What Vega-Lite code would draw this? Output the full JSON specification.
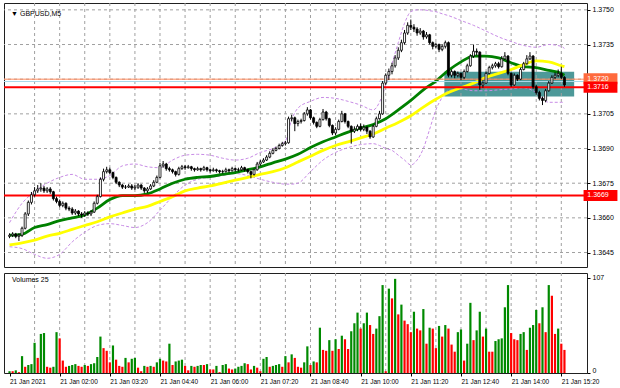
{
"$schema":"https://vega.github.io/schema/vega-lite/v6.json",
"background":"white",
"padding":{"left":2,"top":2,"right":0,"bottom":0},
"spacing":4,
"config":{"view":{"stroke":"#202020","strokeWidth":1},"font":"Liberation Sans",
"axis":{"domain":false,"grid":false,"tickColor":"#000","tickSize":3,"labelColor":"#000","labelFont":"Liberation Sans","labelFontSize":7,"labelPadding":2,"labelOverlap":false,"zindex":1}},
"datasets":{
"gx":[{"t":8},{"t":16},{"t":24},{"t":32},{"t":40},{"t":48},{"t":56},{"t":64},{"t":72},{"t":80},{"t":88},{"t":96},{"t":104},{"t":112},{"t":120},{"t":128},{"t":136},{"t":144},{"t":152},{"t":160},{"t":168},{"t":176}],
"gy":[{"p":1.3645},{"p":1.366},{"p":1.3675},{"p":1.369},{"p":1.3705},{"p":1.372},{"p":1.3735},{"p":1.375}],
"bars":[
{"t":0,"o":1.3652,"h":1.36533,"l":1.36512,"c":1.36525,"v":2,"vc":"g"},
{"t":1,"o":1.36525,"h":1.36538,"l":1.36517,"c":1.3653,"v":2,"vc":"r"},
{"t":2,"o":1.3653,"h":1.36535,"l":1.36512,"c":1.3652,"v":3,"vc":"g"},
{"t":3,"o":1.3652,"h":1.36533,"l":1.365,"c":1.36525,"v":1,"vc":"r"},
{"t":4,"o":1.36525,"h":1.36562,"l":1.36517,"c":1.36555,"v":19,"vc":"g"},
{"t":5,"o":1.36555,"h":1.36625,"l":1.3655,"c":1.36617,"v":7,"vc":"r"},
{"t":6,"o":1.36617,"h":1.36675,"l":1.36608,"c":1.36667,"v":9,"vc":"g"},
{"t":7,"o":1.36667,"h":1.36712,"l":1.36658,"c":1.367,"v":10,"vc":"g"},
{"t":8,"o":1.367,"h":1.36733,"l":1.36692,"c":1.36717,"v":34,"vc":"g"},
{"t":9,"o":1.36717,"h":1.36742,"l":1.36708,"c":1.36725,"v":17,"vc":"r"},
{"t":10,"o":1.36725,"h":1.3675,"l":1.36713,"c":1.36729,"v":44,"vc":"g"},
{"t":11,"o":1.36729,"h":1.36738,"l":1.36708,"c":1.36717,"v":45,"vc":"g"},
{"t":12,"o":1.36717,"h":1.36733,"l":1.36708,"c":1.36725,"v":7,"vc":"r"},
{"t":13,"o":1.36725,"h":1.36733,"l":1.36704,"c":1.36713,"v":6,"vc":"r"},
{"t":14,"o":1.36713,"h":1.36717,"l":1.36675,"c":1.36683,"v":7,"vc":"g"},
{"t":15,"o":1.36683,"h":1.36692,"l":1.36663,"c":1.36671,"v":46,"vc":"g"},
{"t":16,"o":1.36671,"h":1.36679,"l":1.36646,"c":1.36654,"v":39,"vc":"r"},
{"t":17,"o":1.36654,"h":1.36671,"l":1.36646,"c":1.36663,"v":14,"vc":"r"},
{"t":18,"o":1.36663,"h":1.36667,"l":1.36633,"c":1.36642,"v":7,"vc":"r"},
{"t":19,"o":1.36642,"h":1.3665,"l":1.36629,"c":1.36638,"v":8,"vc":"g"},
{"t":20,"o":1.36638,"h":1.36646,"l":1.36613,"c":1.36621,"v":9,"vc":"g"},
{"t":21,"o":1.36621,"h":1.36638,"l":1.36613,"c":1.36629,"v":10,"vc":"g"},
{"t":22,"o":1.36629,"h":1.36633,"l":1.36608,"c":1.36617,"v":8,"vc":"r"},
{"t":23,"o":1.36617,"h":1.36625,"l":1.366,"c":1.36613,"v":7,"vc":"r"},
{"t":24,"o":1.36613,"h":1.36629,"l":1.36604,"c":1.36621,"v":9,"vc":"g"},
{"t":25,"o":1.36621,"h":1.36629,"l":1.36608,"c":1.36617,"v":8,"vc":"r"},
{"t":26,"o":1.36617,"h":1.36633,"l":1.36608,"c":1.36625,"v":10,"vc":"g"},
{"t":27,"o":1.36625,"h":1.36671,"l":1.36621,"c":1.36663,"v":11,"vc":"g"},
{"t":28,"o":1.36663,"h":1.367,"l":1.36658,"c":1.36692,"v":18,"vc":"g"},
{"t":29,"o":1.36692,"h":1.36775,"l":1.36688,"c":1.36767,"v":41,"vc":"g"},
{"t":30,"o":1.36767,"h":1.36813,"l":1.36758,"c":1.368,"v":28,"vc":"r"},
{"t":31,"o":1.368,"h":1.36821,"l":1.36792,"c":1.36808,"v":25,"vc":"r"},
{"t":32,"o":1.36808,"h":1.36817,"l":1.36788,"c":1.36796,"v":12,"vc":"r"},
{"t":33,"o":1.36796,"h":1.368,"l":1.36767,"c":1.36775,"v":31,"vc":"g"},
{"t":34,"o":1.36775,"h":1.36779,"l":1.36746,"c":1.36754,"v":15,"vc":"r"},
{"t":35,"o":1.36754,"h":1.36758,"l":1.36733,"c":1.36742,"v":8,"vc":"r"},
{"t":36,"o":1.36742,"h":1.36746,"l":1.36725,"c":1.36733,"v":7,"vc":"r"},
{"t":37,"o":1.36733,"h":1.36742,"l":1.36725,"c":1.36733,"v":17,"vc":"g"},
{"t":38,"o":1.36733,"h":1.36746,"l":1.36729,"c":1.36738,"v":12,"vc":"r"},
{"t":39,"o":1.36738,"h":1.36746,"l":1.36721,"c":1.36729,"v":16,"vc":"g"},
{"t":40,"o":1.36729,"h":1.36742,"l":1.36721,"c":1.36733,"v":17,"vc":"g"},
{"t":41,"o":1.36733,"h":1.3675,"l":1.36725,"c":1.36742,"v":6,"vc":"r"},
{"t":42,"o":1.36742,"h":1.36746,"l":1.36721,"c":1.36729,"v":2,"vc":"r"},
{"t":43,"o":1.36729,"h":1.36733,"l":1.36708,"c":1.36717,"v":8,"vc":"g"},
{"t":44,"o":1.36717,"h":1.36733,"l":1.36708,"c":1.36725,"v":7,"vc":"r"},
{"t":45,"o":1.36725,"h":1.36746,"l":1.36721,"c":1.36738,"v":8,"vc":"g"},
{"t":46,"o":1.36738,"h":1.36763,"l":1.36733,"c":1.36754,"v":7,"vc":"r"},
{"t":47,"o":1.36754,"h":1.36783,"l":1.3675,"c":1.36775,"v":12,"vc":"g"},
{"t":48,"o":1.36775,"h":1.36838,"l":1.36771,"c":1.36825,"v":16,"vc":"g"},
{"t":49,"o":1.36825,"h":1.36846,"l":1.36817,"c":1.36833,"v":14,"vc":"r"},
{"t":50,"o":1.36833,"h":1.36838,"l":1.36804,"c":1.36813,"v":13,"vc":"r"},
{"t":51,"o":1.36813,"h":1.36821,"l":1.368,"c":1.36808,"v":33,"vc":"g"},
{"t":52,"o":1.36808,"h":1.36813,"l":1.36792,"c":1.368,"v":9,"vc":"r"},
{"t":53,"o":1.368,"h":1.36804,"l":1.36779,"c":1.36788,"v":13,"vc":"g"},
{"t":54,"o":1.36788,"h":1.36821,"l":1.36783,"c":1.36813,"v":14,"vc":"g"},
{"t":55,"o":1.36813,"h":1.36829,"l":1.36808,"c":1.36821,"v":15,"vc":"g"},
{"t":56,"o":1.36821,"h":1.36829,"l":1.36808,"c":1.36817,"v":8,"vc":"r"},
{"t":57,"o":1.36817,"h":1.36829,"l":1.36813,"c":1.36821,"v":3,"vc":"r"},
{"t":58,"o":1.36821,"h":1.36825,"l":1.36804,"c":1.36813,"v":8,"vc":"g"},
{"t":59,"o":1.36813,"h":1.36817,"l":1.368,"c":1.36808,"v":7,"vc":"r"},
{"t":60,"o":1.36808,"h":1.36821,"l":1.36804,"c":1.36813,"v":8,"vc":"g"},
{"t":61,"o":1.36813,"h":1.36817,"l":1.368,"c":1.36808,"v":9,"vc":"g"},
{"t":62,"o":1.36808,"h":1.36825,"l":1.36804,"c":1.36817,"v":9,"vc":"r"},
{"t":63,"o":1.36817,"h":1.36821,"l":1.368,"c":1.36808,"v":10,"vc":"g"},
{"t":64,"o":1.36808,"h":1.36813,"l":1.36796,"c":1.36804,"v":4,"vc":"r"},
{"t":65,"o":1.36804,"h":1.36817,"l":1.368,"c":1.36808,"v":4,"vc":"r"},
{"t":66,"o":1.36808,"h":1.36813,"l":1.36796,"c":1.36804,"v":8,"vc":"g"},
{"t":67,"o":1.36804,"h":1.36808,"l":1.36792,"c":1.368,"v":1,"vc":"r"},
{"t":68,"o":1.368,"h":1.36808,"l":1.36792,"c":1.368,"v":9,"vc":"g"},
{"t":69,"o":1.368,"h":1.36817,"l":1.36796,"c":1.36808,"v":10,"vc":"g"},
{"t":70,"o":1.36808,"h":1.36813,"l":1.36796,"c":1.36804,"v":5,"vc":"r"},
{"t":71,"o":1.36804,"h":1.36821,"l":1.368,"c":1.36813,"v":4,"vc":"r"},
{"t":72,"o":1.36813,"h":1.36817,"l":1.368,"c":1.36808,"v":5,"vc":"g"},
{"t":73,"o":1.36808,"h":1.36817,"l":1.368,"c":1.36808,"v":7,"vc":"g"},
{"t":74,"o":1.36808,"h":1.36825,"l":1.36804,"c":1.36817,"v":8,"vc":"g"},
{"t":75,"o":1.36817,"h":1.36821,"l":1.368,"c":1.36808,"v":11,"vc":"g"},
{"t":76,"o":1.36808,"h":1.36813,"l":1.36792,"c":1.368,"v":10,"vc":"r"},
{"t":77,"o":1.368,"h":1.36804,"l":1.36771,"c":1.36788,"v":4,"vc":"r"},
{"t":78,"o":1.36788,"h":1.36813,"l":1.36783,"c":1.36808,"v":8,"vc":"g"},
{"t":79,"o":1.36808,"h":1.36842,"l":1.36804,"c":1.36833,"v":6,"vc":"r"},
{"t":80,"o":1.36833,"h":1.3685,"l":1.36825,"c":1.36842,"v":2,"vc":"r"},
{"t":81,"o":1.36842,"h":1.36858,"l":1.36838,"c":1.3685,"v":16,"vc":"g"},
{"t":82,"o":1.3685,"h":1.36871,"l":1.36846,"c":1.36863,"v":18,"vc":"g"},
{"t":83,"o":1.36863,"h":1.36888,"l":1.36858,"c":1.36879,"v":7,"vc":"r"},
{"t":84,"o":1.36879,"h":1.369,"l":1.36875,"c":1.36892,"v":8,"vc":"g"},
{"t":85,"o":1.36892,"h":1.36908,"l":1.36888,"c":1.369,"v":9,"vc":"g"},
{"t":86,"o":1.369,"h":1.36921,"l":1.36896,"c":1.36913,"v":10,"vc":"g"},
{"t":87,"o":1.36913,"h":1.36929,"l":1.36908,"c":1.36921,"v":7,"vc":"r"},
{"t":88,"o":1.36921,"h":1.36933,"l":1.36913,"c":1.36925,"v":19,"vc":"g"},
{"t":89,"o":1.36925,"h":1.37038,"l":1.36921,"c":1.37029,"v":12,"vc":"r"},
{"t":90,"o":1.37029,"h":1.37046,"l":1.37017,"c":1.37033,"v":21,"vc":"g"},
{"t":91,"o":1.37033,"h":1.37038,"l":1.36975,"c":1.37008,"v":17,"vc":"r"},
{"t":92,"o":1.37008,"h":1.37025,"l":1.36996,"c":1.37017,"v":7,"vc":"r"},
{"t":93,"o":1.37017,"h":1.37029,"l":1.37008,"c":1.37021,"v":6,"vc":"r"},
{"t":94,"o":1.37021,"h":1.37058,"l":1.37017,"c":1.3705,"v":12,"vc":"g"},
{"t":95,"o":1.3705,"h":1.37079,"l":1.37042,"c":1.37067,"v":30,"vc":"g"},
{"t":96,"o":1.37067,"h":1.37071,"l":1.37025,"c":1.37033,"v":9,"vc":"r"},
{"t":97,"o":1.37033,"h":1.37038,"l":1.37004,"c":1.37013,"v":13,"vc":"g"},
{"t":98,"o":1.37013,"h":1.37017,"l":1.36988,"c":1.36996,"v":12,"vc":"r"},
{"t":99,"o":1.36996,"h":1.37033,"l":1.36992,"c":1.37025,"v":51,"vc":"g"},
{"t":100,"o":1.37025,"h":1.37071,"l":1.37021,"c":1.37058,"v":26,"vc":"r"},
{"t":101,"o":1.37058,"h":1.37063,"l":1.37021,"c":1.37029,"v":25,"vc":"r"},
{"t":102,"o":1.37029,"h":1.37033,"l":1.36992,"c":1.37,"v":37,"vc":"g"},
{"t":103,"o":1.37,"h":1.37004,"l":1.36958,"c":1.36967,"v":25,"vc":"r"},
{"t":104,"o":1.36967,"h":1.36992,"l":1.36958,"c":1.36983,"v":38,"vc":"g"},
{"t":105,"o":1.36983,"h":1.37025,"l":1.36979,"c":1.37017,"v":27,"vc":"r"},
{"t":106,"o":1.37017,"h":1.37063,"l":1.37013,"c":1.3705,"v":42,"vc":"g"},
{"t":107,"o":1.3705,"h":1.37054,"l":1.37008,"c":1.37017,"v":38,"vc":"r"},
{"t":108,"o":1.37017,"h":1.37021,"l":1.36988,"c":1.36996,"v":27,"vc":"r"},
{"t":109,"o":1.36996,"h":1.37,"l":1.36921,"c":1.36975,"v":47,"vc":"g"},
{"t":110,"o":1.36975,"h":1.36996,"l":1.36967,"c":1.36983,"v":56,"vc":"g"},
{"t":111,"o":1.36983,"h":1.37004,"l":1.36975,"c":1.36996,"v":68,"vc":"g"},
{"t":112,"o":1.36996,"h":1.37008,"l":1.36975,"c":1.36983,"v":50,"vc":"r"},
{"t":113,"o":1.36983,"h":1.37004,"l":1.36975,"c":1.36992,"v":56,"vc":"g"},
{"t":114,"o":1.36992,"h":1.36996,"l":1.36963,"c":1.36975,"v":68,"vc":"g"},
{"t":115,"o":1.36975,"h":1.36979,"l":1.36942,"c":1.3695,"v":54,"vc":"r"},
{"t":116,"o":1.3695,"h":1.37004,"l":1.36946,"c":1.36996,"v":44,"vc":"r"},
{"t":117,"o":1.36996,"h":1.37038,"l":1.36992,"c":1.37029,"v":50,"vc":"g"},
{"t":118,"o":1.37029,"h":1.37063,"l":1.37025,"c":1.3705,"v":64,"vc":"g"},
{"t":119,"o":1.3705,"h":1.37192,"l":1.37046,"c":1.37183,"v":99,"vc":"g"},
{"t":120,"o":1.37183,"h":1.37225,"l":1.37175,"c":1.37217,"v":2,"vc":"r"},
{"t":121,"o":1.37217,"h":1.37246,"l":1.37196,"c":1.37233,"v":95,"vc":"g"},
{"t":122,"o":1.37233,"h":1.37271,"l":1.37221,"c":1.37258,"v":84,"vc":"r"},
{"t":123,"o":1.37258,"h":1.37304,"l":1.3725,"c":1.37292,"v":106,"vc":"g"},
{"t":124,"o":1.37292,"h":1.37338,"l":1.37283,"c":1.37325,"v":66,"vc":"r"},
{"t":125,"o":1.37325,"h":1.37371,"l":1.37317,"c":1.37358,"v":77,"vc":"g"},
{"t":126,"o":1.37358,"h":1.37413,"l":1.3735,"c":1.374,"v":59,"vc":"r"},
{"t":127,"o":1.374,"h":1.37446,"l":1.37392,"c":1.37433,"v":55,"vc":"r"},
{"t":128,"o":1.37433,"h":1.37458,"l":1.37413,"c":1.37425,"v":46,"vc":"r"},
{"t":129,"o":1.37425,"h":1.37438,"l":1.37404,"c":1.37417,"v":69,"vc":"g"},
{"t":130,"o":1.37417,"h":1.37425,"l":1.37388,"c":1.374,"v":50,"vc":"r"},
{"t":131,"o":1.374,"h":1.37421,"l":1.37392,"c":1.37408,"v":48,"vc":"r"},
{"t":132,"o":1.37408,"h":1.37413,"l":1.37371,"c":1.37383,"v":72,"vc":"g"},
{"t":133,"o":1.37383,"h":1.37404,"l":1.37375,"c":1.37392,"v":33,"vc":"r"},
{"t":134,"o":1.37392,"h":1.37396,"l":1.3735,"c":1.37358,"v":51,"vc":"g"},
{"t":135,"o":1.37358,"h":1.37363,"l":1.37329,"c":1.37342,"v":50,"vc":"r"},
{"t":136,"o":1.37342,"h":1.37358,"l":1.37333,"c":1.3735,"v":28,"vc":"r"},
{"t":137,"o":1.3735,"h":1.37354,"l":1.37317,"c":1.37329,"v":53,"vc":"g"},
{"t":138,"o":1.37329,"h":1.3735,"l":1.37321,"c":1.37342,"v":41,"vc":"r"},
{"t":139,"o":1.37342,"h":1.37367,"l":1.37333,"c":1.37358,"v":54,"vc":"g"},
{"t":140,"o":1.37358,"h":1.37363,"l":1.37208,"c":1.37217,"v":50,"vc":"r"},
{"t":141,"o":1.37217,"h":1.37242,"l":1.37208,"c":1.37233,"v":32,"vc":"r"},
{"t":142,"o":1.37233,"h":1.37238,"l":1.37204,"c":1.37217,"v":24,"vc":"r"},
{"t":143,"o":1.37217,"h":1.37233,"l":1.37208,"c":1.37225,"v":46,"vc":"g"},
{"t":144,"o":1.37225,"h":1.37229,"l":1.37196,"c":1.37208,"v":49,"vc":"g"},
{"t":145,"o":1.37208,"h":1.37242,"l":1.372,"c":1.37233,"v":14,"vc":"r"},
{"t":146,"o":1.37233,"h":1.37267,"l":1.37229,"c":1.37258,"v":33,"vc":"g"},
{"t":147,"o":1.37258,"h":1.37308,"l":1.37254,"c":1.373,"v":79,"vc":"g"},
{"t":148,"o":1.373,"h":1.3735,"l":1.37292,"c":1.37321,"v":37,"vc":"r"},
{"t":149,"o":1.37321,"h":1.37333,"l":1.37304,"c":1.37317,"v":48,"vc":"g"},
{"t":150,"o":1.37317,"h":1.37321,"l":1.37154,"c":1.37175,"v":69,"vc":"g"},
{"t":151,"o":1.37175,"h":1.37196,"l":1.37163,"c":1.37183,"v":41,"vc":"r"},
{"t":152,"o":1.37183,"h":1.37233,"l":1.37179,"c":1.37225,"v":50,"vc":"g"},
{"t":153,"o":1.37225,"h":1.37258,"l":1.37221,"c":1.3725,"v":24,"vc":"r"},
{"t":154,"o":1.3725,"h":1.37267,"l":1.37242,"c":1.37258,"v":24,"vc":"r"},
{"t":155,"o":1.37258,"h":1.37275,"l":1.3725,"c":1.37267,"v":36,"vc":"g"},
{"t":156,"o":1.37267,"h":1.37275,"l":1.37246,"c":1.37254,"v":38,"vc":"g"},
{"t":157,"o":1.37254,"h":1.373,"l":1.3725,"c":1.37288,"v":39,"vc":"g"},
{"t":158,"o":1.37288,"h":1.37317,"l":1.37283,"c":1.373,"v":74,"vc":"g"},
{"t":159,"o":1.373,"h":1.37304,"l":1.37217,"c":1.37225,"v":99,"vc":"g"},
{"t":160,"o":1.37225,"h":1.37229,"l":1.37167,"c":1.37175,"v":45,"vc":"r"},
{"t":161,"o":1.37175,"h":1.37225,"l":1.37171,"c":1.37217,"v":38,"vc":"r"},
{"t":162,"o":1.37217,"h":1.37221,"l":1.37192,"c":1.372,"v":37,"vc":"r"},
{"t":163,"o":1.372,"h":1.3725,"l":1.37196,"c":1.37242,"v":44,"vc":"g"},
{"t":164,"o":1.37242,"h":1.37275,"l":1.37238,"c":1.37267,"v":46,"vc":"g"},
{"t":165,"o":1.37267,"h":1.37304,"l":1.37263,"c":1.37288,"v":26,"vc":"r"},
{"t":166,"o":1.37288,"h":1.37317,"l":1.37283,"c":1.373,"v":51,"vc":"g"},
{"t":167,"o":1.373,"h":1.37304,"l":1.37158,"c":1.37167,"v":54,"vc":"g"},
{"t":168,"o":1.37167,"h":1.37175,"l":1.37133,"c":1.37142,"v":71,"vc":"g"},
{"t":169,"o":1.37142,"h":1.3715,"l":1.37108,"c":1.37117,"v":56,"vc":"r"},
{"t":170,"o":1.37117,"h":1.37125,"l":1.37088,"c":1.37108,"v":74,"vc":"g"},
{"t":171,"o":1.37108,"h":1.37158,"l":1.371,"c":1.3715,"v":46,"vc":"r"},
{"t":172,"o":1.3715,"h":1.37192,"l":1.37146,"c":1.37183,"v":99,"vc":"g"},
{"t":173,"o":1.37183,"h":1.37217,"l":1.37179,"c":1.37208,"v":87,"vc":"r"},
{"t":174,"o":1.37208,"h":1.37229,"l":1.372,"c":1.37217,"v":44,"vc":"r"},
{"t":175,"o":1.37217,"h":1.37242,"l":1.37208,"c":1.37225,"v":50,"vc":"g"},
{"t":176,"o":1.37225,"h":1.37254,"l":1.372,"c":1.37208,"v":33,"vc":"r"},
{"t":177,"o":1.37208,"h":1.37213,"l":1.37167,"c":1.37175,"v":26,"vc":"r"}
],
"ma":[
{"t":0,"g":1.36525,"y":1.36483},{"t":4,"g":1.36529,"y":1.36492},{"t":8,"g":1.36558,"y":1.36504},{"t":12,"g":1.36571,"y":1.36521},
{"t":16,"g":1.36588,"y":1.36533},{"t":20,"g":1.366,"y":1.3655},{"t":24,"g":1.36613,"y":1.36567},{"t":28,"g":1.36642,"y":1.36583},
{"t":32,"g":1.36679,"y":1.36604},{"t":36,"g":1.36696,"y":1.36621},{"t":40,"g":1.36696,"y":1.36638},{"t":44,"g":1.36704,"y":1.3665},
{"t":48,"g":1.36725,"y":1.36671},{"t":52,"g":1.3675,"y":1.36692},{"t":56,"g":1.36767,"y":1.36717},{"t":60,"g":1.36775,"y":1.36729},
{"t":64,"g":1.36779,"y":1.36738},{"t":68,"g":1.36788,"y":1.3675},{"t":72,"g":1.36796,"y":1.36763},{"t":76,"g":1.36808,"y":1.36775},
{"t":80,"g":1.36821,"y":1.36788},{"t":84,"g":1.36838,"y":1.368},{"t":88,"g":1.36854,"y":1.36817},{"t":92,"g":1.36875,"y":1.36842},
{"t":96,"g":1.36904,"y":1.36867},{"t":100,"g":1.36929,"y":1.36892},{"t":104,"g":1.3695,"y":1.36913},{"t":108,"g":1.36971,"y":1.36929},
{"t":112,"g":1.36988,"y":1.36946},{"t":116,"g":1.37004,"y":1.36963},{"t":120,"g":1.37029,"y":1.36988},{"t":124,"g":1.37067,"y":1.37013},
{"t":128,"g":1.37108,"y":1.37042},{"t":132,"g":1.37154,"y":1.37079},{"t":136,"g":1.37192,"y":1.37113},{"t":140,"g":1.37238,"y":1.37142},
{"t":144,"g":1.37275,"y":1.37163},{"t":148,"g":1.373,"y":1.37183},{"t":152,"g":1.373,"y":1.37208},{"t":156,"g":1.37292,"y":1.37225},
{"t":160,"g":1.37271,"y":1.37242},{"t":164,"g":1.37254,"y":1.37263},{"t":168,"g":1.3725,"y":1.37279},{"t":172,"g":1.37238,"y":1.37275},
{"t":176,"g":1.37225,"y":1.37258},{"t":177,"g":1.37217,"y":1.37254}
],
"bb":[
{"t":0,"u":1.36579,"l":1.36475},{"t":4,"u":1.36663,"l":1.36467},{"t":8,"u":1.36713,"l":1.36442},{"t":12,"u":1.3675,"l":1.36425},
{"t":16,"u":1.36775,"l":1.36442},{"t":20,"u":1.36788,"l":1.36496},{"t":24,"u":1.36767,"l":1.36538},{"t":28,"u":1.36767,"l":1.36567},
{"t":32,"u":1.36783,"l":1.36575},{"t":36,"u":1.36825,"l":1.36567},{"t":40,"u":1.36833,"l":1.36558},{"t":44,"u":1.36821,"l":1.36579},
{"t":48,"u":1.36817,"l":1.36633},{"t":52,"u":1.3685,"l":1.36692},{"t":56,"u":1.36871,"l":1.36742},{"t":60,"u":1.36875,"l":1.36767},
{"t":64,"u":1.36871,"l":1.36775},{"t":68,"u":1.36858,"l":1.36783},{"t":72,"u":1.3685,"l":1.36792},{"t":76,"u":1.36858,"l":1.36783},
{"t":80,"u":1.36883,"l":1.36767},{"t":84,"u":1.369,"l":1.36754},{"t":88,"u":1.36933,"l":1.36746},{"t":90,"u":1.37025,"l":1.36746},
{"t":92,"u":1.37075,"l":1.3675},{"t":96,"u":1.37104,"l":1.368},{"t":100,"u":1.37121,"l":1.3685},{"t":104,"u":1.37117,"l":1.36883},
{"t":108,"u":1.37104,"l":1.36904},{"t":112,"u":1.37088,"l":1.36917},{"t":116,"u":1.37067,"l":1.36921},{"t":118,"u":1.371,"l":1.36913},
{"t":120,"u":1.37175,"l":1.369},{"t":122,"u":1.37267,"l":1.36892},{"t":124,"u":1.37358,"l":1.36871},{"t":126,"u":1.37442,"l":1.3685},
{"t":128,"u":1.37492,"l":1.36829},{"t":130,"u":1.375,"l":1.3685},{"t":132,"u":1.375,"l":1.369},{"t":134,"u":1.37496,"l":1.36983},
{"t":136,"u":1.37492,"l":1.37067},{"t":138,"u":1.37483,"l":1.37121},{"t":140,"u":1.37475,"l":1.3715},{"t":144,"u":1.37454,"l":1.37158},
{"t":148,"u":1.37433,"l":1.3715},{"t":152,"u":1.37408,"l":1.3715},{"t":156,"u":1.37383,"l":1.37154},{"t":160,"u":1.37363,"l":1.37158},
{"t":164,"u":1.37346,"l":1.37163},{"t":168,"u":1.37338,"l":1.37142},{"t":172,"u":1.3735,"l":1.371},{"t":176,"u":1.37342,"l":1.371},
{"t":177,"u":1.37333,"l":1.371}
],
"zone":[{"t1":138.7,"t2":180.1,"p1":1.37232,"p2":1.37125}],
"lines":[{"p":1.372,"k":"o"},{"p":1.3719,"k":"b"},{"p":1.37165,"k":"r"},{"p":1.36697,"k":"r"}],
"tags":[{"p":1.37202,"lab":"1.3720","k":"o"},{"p":1.37165,"lab":"1.3716","k":"r"},{"p":1.36697,"lab":"1.3669","k":"r"}]
},
"vconcat":[
{"width":583,"height":264,
"resolve":{"axis":{"x":"independent","y":"independent"}},
"layer":[
{"data":{"name":"zone"},"mark":{"type":"rect","color":"#4d9999"},
"encoding":{
"x":{"field":"t1","type":"quantitative","scale":{"domain":[-0.16,182.6],"nice":false,"zero":false},"title":null,
"axis":{"values":[0,8,16,24,32,40,48,56,64,72,80,88,96,104,112,120,128,136,144,152,160,168,176],"labels":false,"ticks":false,"grid":false}},
"x2":{"field":"t2"},
"y":{"field":"p1","type":"quantitative","scale":{"domain":[1.36409,1.37508],"nice":false,"zero":false},"title":null,
"axis":{"orient":"right","values":[1.3645,1.366,1.3675,1.369,1.3705,1.372,1.3735,1.375],"labelExpr":"abs(datum.value-1.372)<0.00001 ? '' : format(datum.value,'.4f')","grid":false,"tickSize":3,"labelFontSize":7,"labelOverlap":false,"zindex":0}},
"y2":{"field":"p2"}}},
{"data":{"name":"gx"},"mark":{"type":"rule","color":"#a0a0a0","strokeWidth":1,"strokeDash":[3,3]},
"encoding":{"x":{"field":"t","type":"quantitative","scale":{"domain":[-0.16,182.6],"nice":false,"zero":false},"title":null,"axis":null}}},
{"data":{"name":"gy"},"mark":{"type":"rule","color":"#a0a0a0","strokeWidth":1,"strokeDash":[3,3]},
"encoding":{"y":{"field":"p","type":"quantitative","scale":{"domain":[1.36409,1.37508],"nice":false,"zero":false},"title":null,"axis":null}}},
{"data":{"name":"bb"},"mark":{"type":"line","color":"#c88ce6","strokeWidth":1,"strokeDash":[3,2],"interpolate":"monotone","clip":true},
"encoding":{"x":{"field":"t","type":"quantitative","scale":{"domain":[-0.16,182.6],"nice":false,"zero":false},"title":null,"axis":null},
"y":{"field":"u","type":"quantitative","scale":{"domain":[1.36409,1.37508],"nice":false,"zero":false},"title":null,"axis":null}}},
{"data":{"name":"bb"},"mark":{"type":"line","color":"#c88ce6","strokeWidth":1,"strokeDash":[3,2],"interpolate":"monotone","clip":true},
"encoding":{"x":{"field":"t","type":"quantitative","scale":{"domain":[-0.16,182.6],"nice":false,"zero":false},"title":null,"axis":null},
"y":{"field":"l","type":"quantitative","scale":{"domain":[1.36409,1.37508],"nice":false,"zero":false},"title":null,"axis":null}}},
{"data":{"name":"ma"},"mark":{"type":"line","color":"#008000","strokeWidth":2.8,"interpolate":"monotone","clip":true},
"encoding":{"x":{"field":"t","type":"quantitative","scale":{"domain":[-0.16,182.6],"nice":false,"zero":false},"title":null,"axis":null},
"y":{"field":"g","type":"quantitative","scale":{"domain":[1.36409,1.37508],"nice":false,"zero":false},"title":null,"axis":null}}},
{"data":{"name":"ma"},"mark":{"type":"line","color":"#ffff00","strokeWidth":2.8,"interpolate":"monotone","clip":true},
"encoding":{"x":{"field":"t","type":"quantitative","scale":{"domain":[-0.16,182.6],"nice":false,"zero":false},"title":null,"axis":null},
"y":{"field":"y","type":"quantitative","scale":{"domain":[1.36409,1.37508],"nice":false,"zero":false},"title":null,"axis":null}}},
{"data":{"name":"lines"},"mark":{"type":"rule"},
"encoding":{"y":{"field":"p","type":"quantitative","scale":{"domain":[1.36409,1.37508],"nice":false,"zero":false},"title":null,"axis":null},
"color":{"condition":[{"test":"datum.k == 'o'","value":"#ff8a5c"},{"test":"datum.k == 'b'","value":"#a9d9ea"}],"value":"#ff0000"},
"strokeWidth":{"condition":{"test":"datum.k == 'r'","value":2},"value":1}}},
{"data":{"name":"bars"},"mark":{"type":"rule","color":"#000","strokeWidth":1,"clip":true},
"encoding":{"x":{"field":"t","type":"quantitative","scale":{"domain":[-0.16,182.6],"nice":false,"zero":false},"title":null,"axis":null},
"y":{"field":"l","type":"quantitative","scale":{"domain":[1.36409,1.37508],"nice":false,"zero":false},"title":null,"axis":null},
"y2":{"field":"h"}}},
{"data":{"name":"bars"},"mark":{"type":"bar","size":2,"stroke":"#000","strokeWidth":0.8,"clip":true},
"encoding":{"x":{"field":"t","type":"quantitative","scale":{"domain":[-0.16,182.6],"nice":false,"zero":false},"title":null,"axis":null},
"y":{"field":"o","type":"quantitative","scale":{"domain":[1.36409,1.37508],"nice":false,"zero":false},"title":null,"axis":null},
"y2":{"field":"c"},
"color":{"condition":{"test":"datum.c < datum.o","value":"#000000"},"value":"#ffffff"}}},
{"data":{"name":"tags"},"mark":{"type":"bar","size":11,"orient":"horizontal","clip":false},
"encoding":{"x":{"datum":183.1,"type":"quantitative","scale":{"domain":[-0.16,182.6],"nice":false,"zero":false},"title":null,"axis":null},
"x2":{"datum":193.9},
"y":{"field":"p","type":"quantitative","scale":{"domain":[1.36409,1.37508],"nice":false,"zero":false},"title":null,"axis":null},
"color":{"condition":{"test":"datum.k == 'o'","value":"#ff6a3d"},"value":"#ff0000"}}},
{"data":{"name":"tags"},"mark":{"type":"text","align":"left","baseline":"middle","fontSize":7,"color":"#ffffff","font":"Liberation Sans","clip":false},
"encoding":{"x":{"datum":184.3,"type":"quantitative","scale":{"domain":[-0.16,182.6],"nice":false,"zero":false},"title":null,"axis":null},
"y":{"field":"p","type":"quantitative","scale":{"domain":[1.36409,1.37508],"nice":false,"zero":false},"title":null,"axis":null},
"text":{"field":"lab"}}},
{"data":{"values":[{"s":"▼ GBPUSD,M5"}]},"mark":{"type":"text","align":"left","baseline":"middle","fontSize":7,"color":"#000","font":"Liberation Sans"},
"encoding":{"x":{"datum":0.5,"type":"quantitative","scale":{"domain":[-0.16,182.6],"nice":false,"zero":false},"title":null,"axis":null},
"y":{"datum":1.37483,"type":"quantitative","scale":{"domain":[1.36409,1.37508],"nice":false,"zero":false},"title":null,"axis":null},
"text":{"field":"s"}}}
]},
{"width":583,"height":100,
"resolve":{"axis":{"x":"independent","y":"independent"}},
"layer":[
{"data":{"name":"gx"},"mark":{"type":"rule","color":"#a0a0a0","strokeWidth":1,"strokeDash":[3,3]},
"encoding":{"x":{"field":"t","type":"quantitative","scale":{"domain":[-0.16,182.6],"nice":false,"zero":false},"title":null,"axis":null}}},
{"data":{"name":"bars"},"mark":{"type":"bar","size":2.2,"clip":true},
"encoding":{
"x":{"field":"t","type":"quantitative","scale":{"domain":[-0.16,182.6],"nice":false,"zero":false},"title":null,
"axis":{"values":[0,16,32,48,64,80,96,112,128,144,160,176],"grid":false,
"labelExpr":"['21 Jan 2021','21 Jan 02:00','21 Jan 03:20','21 Jan 04:40','21 Jan 06:00','21 Jan 07:20','21 Jan 08:40','21 Jan 10:00','21 Jan 11:20','21 Jan 12:40','21 Jan 14:00','21 Jan 15:20'][round(datum.value/16)]",
"labelAlign":"left","labelBaseline":"top","labelFlush":false,"labelOverlap":false,"labelFontSize":6.5,"labelPadding":2,"tickSize":3}},
"y":{"field":"v","type":"quantitative","scale":{"domain":[0,112.6],"nice":false},"title":null,
"axis":{"orient":"right","values":[0,107],"grid":false,"tickSize":3,"labelFontSize":7,"labelOverlap":false,
"labelBaseline":{"condition":{"test":"datum.value == 0","value":"bottom"},"value":"middle"}}},
"color":{"condition":{"test":"datum.vc == 'g'","value":"#008a00"},"value":"#ff0000"}}},
{"data":{"values":[{"s":"Volumes 25"}]},"mark":{"type":"text","align":"left","baseline":"middle","fontSize":7,"color":"#000","font":"Liberation Sans"},
"encoding":{"x":{"datum":0.8,"type":"quantitative","scale":{"domain":[-0.16,182.6],"nice":false,"zero":false},"title":null,"axis":null},
"y":{"datum":104.5,"type":"quantitative","scale":{"domain":[0,112.6],"nice":false},"title":null,"axis":null},
"text":{"field":"s"}}}
]}
]
}
